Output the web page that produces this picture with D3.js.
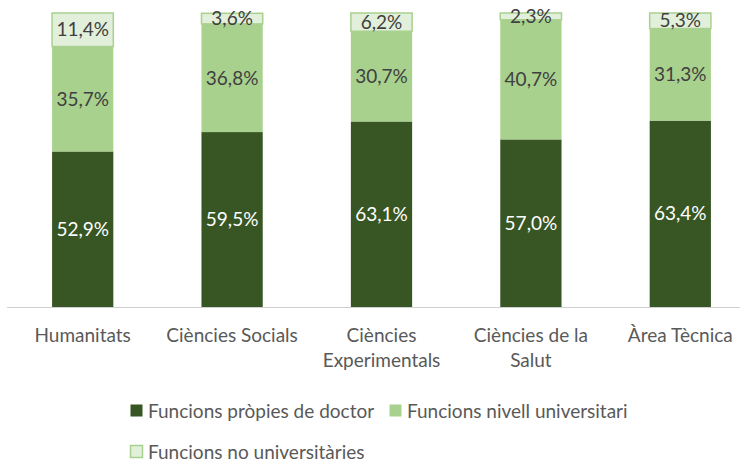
<!DOCTYPE html>
<html>
<head>
<meta charset="utf-8">
<script src="https://cdn.jsdelivr.net/npm/d3@7"></script>
<style>
  body { margin: 0; background: #fff; }
  text { font-family: Lato, "Open Sans", sans-serif; }
</style>
</head>
<body>
<div id="chart"></div>
<script>
// categories and series values (percent)
var categories = ["Humanitats", "Ciències Socials", "Ciències Experimentals", "Ciències de la Salut", "Àrea Tècnica"];
var catLines = [["Humanitats"], ["Ciències Socials"], ["Ciències", "Experimentals"], ["Ciències de la", "Salut"], ["Àrea Tècnica"]];
var seriesNames = ["Funcions pròpies de doctor", "Funcions nivell universitari", "Funcions no universitàries"];
var doctor = [52.9, 59.5, 63.1, 57.0, 63.4];
var nivell = [35.7, 36.8, 30.7, 40.7, 31.3];
var noUni = [11.4, 3.6, 6.2, 2.3, 5.3];

var width = 745, height = 462;
var colors = ["#375623", "#a9d18e", "#e2efda"];
var labelColors = ["#ffffff", "#404040", "#404040"];
var fs = "19px";

var svg = d3.select("#chart").append("svg")
  .attr("width", width)
  .attr("height", height);

var x = d3.scaleBand()
  .domain(categories)
  .range([8, 755])
  .paddingInner(0.59)
  .paddingOuter(0.295);

var y = d3.scaleLinear()
  .domain([0, 100])
  .range([307, 13]);

// build rows for stacking
var rows = categories.map(function(c, i) {
  return { cat: c, s0: doctor[i], s1: nivell[i], s2: noUni[i] };
});
var stack = d3.stack().keys(["s0", "s1", "s2"]);
var layers = stack(rows);

var groups = svg.selectAll(".layer")
  .data(layers).enter()
  .append("g")
  .attr("class", "layer");

groups.selectAll("rect")
  .data(function(d) { return d.map(function(p) { return { p: p, k: d.index }; }); })
  .enter().append("rect")
  .attr("x", function(d) { return x(d.p.data.cat); })
  .attr("width", x.bandwidth())
  .attr("y", function(d) { return y(d.p[1]); })
  .attr("height", function(d) { return y(d.p[0]) - y(d.p[1]); })
  .attr("fill", function(d) { return colors[d.k]; })
  .attr("stroke", function(d) { return d.k == 2 ? "#a9d18e" : "none"; })
  .attr("stroke-width", 1.5);

// axis line
svg.append("line")
  .attr("x1", 7).attr("x2", 740)
  .attr("y1", y(0) + 0.5).attr("y2", y(0) + 0.5)
  .attr("stroke", "#d0d0d0")
  .attr("stroke-width", 1);

// data labels
groups.selectAll("text")
  .data(function(d) { return d.map(function(p) { return { p: p, k: d.index }; }); })
  .enter().append("text")
  .attr("x", function(d) { return x(d.p.data.cat) + x.bandwidth() / 2; })
  .attr("y", function(d) { return (y(d.p[0]) + y(d.p[1])) / 2; })
  .attr("dy", "0.35em")
  .attr("text-anchor", "middle")
  .style("font-size", fs)
  .style("fill", function(d) { return labelColors[d.k]; })
  .text(function(d) { return d3.format(".1f")(d.p[1] - d.p[0]).replace(".", ",") + "%"; });

// category labels
var catG = svg.selectAll(".cat")
  .data(categories).enter()
  .append("text")
  .attr("class", "cat")
  .attr("text-anchor", "middle")
  .attr("x", function(d) { return x(d) + x.bandwidth() / 2; })
  .attr("y", 342)
  .style("font-size", fs)
  .style("fill", "#595959");

catG.selectAll("tspan")
  .data(function(d, i) { return catLines[i]; })
  .enter().append("tspan")
  .attr("x", function() { return d3.select(this.parentNode).attr("x"); })
  .attr("dy", function(d, i) { return i == 0 ? 0 : 25; })
  .text(function(d) { return d; });

// legend
var legendPos = [[130, 411], [389, 411], [130, 452]];
var legend = svg.selectAll(".legend")
  .data(seriesNames).enter()
  .append("g")
  .attr("class", "legend")
  .attr("transform", function(d, i) { return "translate(" + legendPos[i][0] + "," + legendPos[i][1] + ")"; });

legend.append("rect")
  .attr("x", 0.5).attr("y", -6.5)
  .attr("width", 12).attr("height", 12)
  .attr("fill", function(d, i) { return colors[i]; })
  .attr("stroke", function(d, i) { return i == 2 ? "#a9d18e" : "none"; })
  .attr("stroke-width", 1.5);

legend.append("text")
  .attr("x", 18)
  .attr("y", 0)
  .attr("dy", "0.35em")
  .style("font-size", fs)
  .style("fill", "#595959")
  .text(function(d) { return d; });
</script>
</body>
</html>
